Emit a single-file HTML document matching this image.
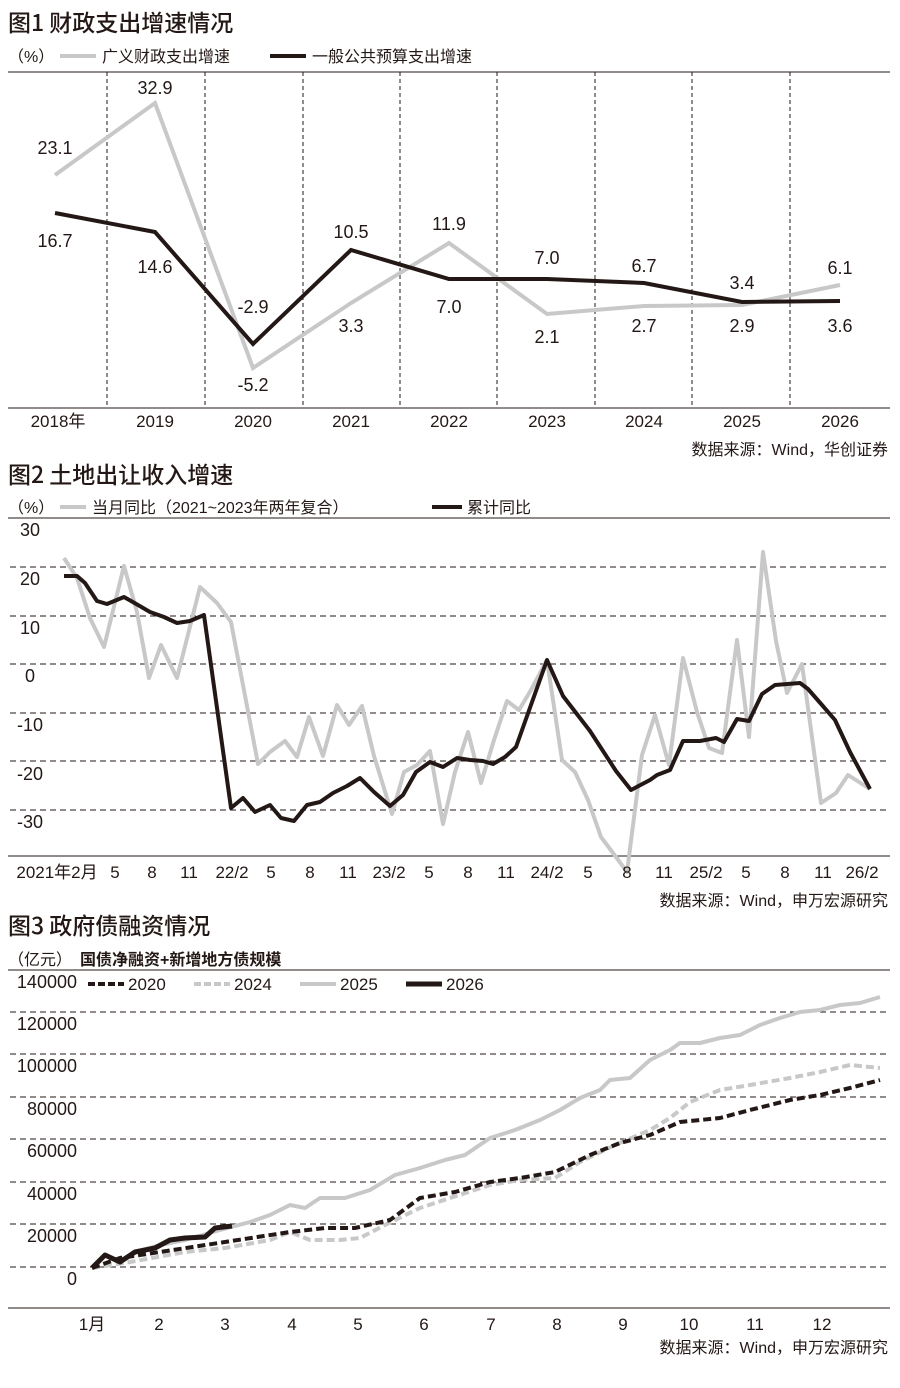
<!DOCTYPE html>
<html><head><meta charset="utf-8"><style>
html,body{margin:0;padding:0;background:#fff;}
svg{display:block;font-family:"Liberation Sans","Noto Sans CJK SC",sans-serif;}
</style></head><body>
<svg width="900" height="1388" viewBox="0 0 900 1388" xmlns="http://www.w3.org/2000/svg">
<rect width="900" height="1388" fill="#fff"/>
<!-- Chart 1 -->
<text x="8" y="31" font-size="23" fill="#231815" font-family="'Noto Sans CJK SC',sans-serif" font-weight="500">图1 财政支出增速情况</text>
<text x="8" y="62" font-size="16" fill="#231815">（%）</text>
<line x1="60" y1="56" x2="96" y2="56" stroke="#c8c8c8" stroke-width="4"/>
<text x="102" y="62" font-size="16" fill="#231815">广义财政支出增速</text>
<line x1="270" y1="56" x2="306" y2="56" stroke="#231815" stroke-width="4"/>
<text x="312" y="62" font-size="16" fill="#231815">一般公共预算支出增速</text>
<line x1="8" y1="72" x2="890" y2="72" stroke="#231815" stroke-width="1"/>
<line x1="8" y1="408" x2="890" y2="408" stroke="#231815" stroke-width="1"/>
<g stroke="#231815" stroke-width="1" stroke-dasharray="4,3">
<line x1="107" y1="72" x2="107" y2="408"/><line x1="205" y1="72" x2="205" y2="408"/><line x1="303" y1="72" x2="303" y2="408"/><line x1="400" y1="72" x2="400" y2="408"/><line x1="497" y1="72" x2="497" y2="408"/><line x1="595" y1="72" x2="595" y2="408"/><line x1="692" y1="72" x2="692" y2="408"/><line x1="790" y1="72" x2="790" y2="408"/>
</g>
<polyline fill="none" stroke="#c8c8c8" stroke-width="4" points="55,175 155,103 253,368 351,303 449,243 547,314 644,306 742,305 840,285"/>
<polyline fill="none" stroke="#231815" stroke-width="4" points="55,213 155,232 253,344 351,250 449,279 547,279 644,283 742,302 840,301"/>
<g font-size="18" fill="#231815" text-anchor="middle">
<text x="55" y="154">23.1</text><text x="155" y="94">32.9</text><text x="253" y="391">-5.2</text><text x="351" y="332">3.3</text><text x="449" y="230">11.9</text><text x="547" y="343">2.1</text><text x="644" y="332">2.7</text><text x="742" y="332">2.9</text><text x="840" y="274">6.1</text>
<text x="55" y="247">16.7</text><text x="155" y="273">14.6</text><text x="253" y="313">-2.9</text><text x="351" y="238">10.5</text><text x="449" y="313">7.0</text><text x="547" y="264">7.0</text><text x="644" y="272">6.7</text><text x="742" y="289">3.4</text><text x="840" y="332">3.6</text>
</g>
<g font-size="17" fill="#231815" text-anchor="middle">
<text x="58" y="427">2018年</text><text x="155" y="427">2019</text><text x="253" y="427">2020</text><text x="351" y="427">2021</text><text x="449" y="427">2022</text><text x="547" y="427">2023</text><text x="644" y="427">2024</text><text x="742" y="427">2025</text><text x="840" y="427">2026</text>
</g>
<text x="888" y="455" font-size="16" fill="#231815" text-anchor="end">数据来源：Wind，华创证券</text>

<!-- Chart 2 -->
<text x="8" y="483" font-size="23" fill="#231815" font-family="'Noto Sans CJK SC',sans-serif" font-weight="500">图2 土地出让收入增速</text>
<text x="8" y="513" font-size="16" fill="#231815">（%）</text>
<line x1="60" y1="507" x2="86" y2="507" stroke="#c8c8c8" stroke-width="4"/>
<text x="92" y="513" font-size="16" fill="#231815">当月同比（2021~2023年两年复合）</text>
<line x1="432" y1="507" x2="462" y2="507" stroke="#231815" stroke-width="4"/>
<text x="467" y="513" font-size="16" fill="#231815">累计同比</text>
<line x1="8" y1="518" x2="890" y2="518" stroke="#231815" stroke-width="1"/>
<g stroke="#231815" stroke-width="1" stroke-dasharray="6,4">
<line x1="10" y1="567" x2="890" y2="567"/><line x1="10" y1="616" x2="890" y2="616"/><line x1="10" y1="664" x2="890" y2="664"/><line x1="10" y1="713" x2="890" y2="713"/><line x1="10" y1="761" x2="890" y2="761"/><line x1="10" y1="810" x2="890" y2="810"/>
</g>
<line x1="8" y1="856" x2="890" y2="856" stroke="#231815" stroke-width="1"/>
<g font-size="18" fill="#231815" text-anchor="middle">
<text x="30" y="536">30</text><text x="30" y="585">20</text><text x="30" y="634">10</text><text x="30" y="682">0</text><text x="30" y="731">-10</text><text x="30" y="780">-20</text><text x="30" y="828">-30</text>
</g>
<polyline fill="none" stroke="#c8c8c8" stroke-width="4" stroke-linejoin="round" points="64,558 77,578 90,618 104,647 124,566 137,612 149,678 161,645 177,678 200,587 217,603 231,622 258,764 270,752 285,741 297,757 309,717 323,756 337,705 349,725 362,706 374,756 392,814 404,772 417,765 430,751 443,824 455,772 468,732 481,783 494,740 507,701 519,710 531,690 547,660 562,760 575,772 588,800 601,837 616,857 627,872 642,755 655,715 669,765 683,658 697,712 709,748 722,753 737,640 749,737 763,552 776,641 787,693 802,664 821,803 836,793 848,775 870,789"/>
<polyline fill="none" stroke="#231815" stroke-width="4" stroke-linejoin="round" points="64,576 77,576 85,583 97,601 107,604 124,597 138,605 150,612 164,617 177,623 190,621 204,615 231,808 243,798 255,812 270,805 281,818 294,821 307,805 320,802 333,793 347,786 360,778 374,792 390,806 403,795 416,772 430,762 443,767 457,758 470,760 483,761 493,764 505,757 516,747 547,660 563,696 590,731 616,771 631,790 650,780 657,775 670,770 683,741 700,741 716,738 724,742 737,719 749,721 762,694 775,685 800,683 808,689 822,705 835,720 850,752 870,789"/>
<g font-size="17" fill="#231815" text-anchor="middle">
<text x="57" y="878">2021年2月</text><text x="115" y="878">5</text><text x="152" y="878">8</text><text x="189" y="878">11</text><text x="232" y="878">22/2</text><text x="271" y="878">5</text><text x="310" y="878">8</text><text x="348" y="878">11</text><text x="389" y="878">23/2</text><text x="429" y="878">5</text><text x="468" y="878">8</text><text x="506" y="878">11</text><text x="547" y="878">24/2</text><text x="588" y="878">5</text><text x="627" y="878">8</text><text x="664" y="878">11</text><text x="706" y="878">25/2</text><text x="746" y="878">5</text><text x="785" y="878">8</text><text x="823" y="878">11</text><text x="862" y="878">26/2</text>
</g>
<text x="888" y="906" font-size="16" fill="#231815" text-anchor="end">数据来源：Wind，申万宏源研究</text>

<!-- Chart 3 -->
<text x="8" y="934" font-size="23" fill="#231815" font-family="'Noto Sans CJK SC',sans-serif" font-weight="500">图3 政府债融资情况</text>
<text x="8" y="965" font-size="16" fill="#231815">（亿元）</text>
<text x="80" y="965" font-size="16" fill="#231815" font-weight="bold">国债净融资+新增地方债规模</text>
<line x1="8" y1="970" x2="890" y2="970" stroke="#231815" stroke-width="1"/>
<line x1="88" y1="984" x2="124" y2="984" stroke="#231815" stroke-width="4" stroke-dasharray="7,3"/>
<text x="128" y="990" font-size="17" fill="#231815">2020</text>
<line x1="194" y1="984" x2="230" y2="984" stroke="#c8c8c8" stroke-width="4" stroke-dasharray="7,3"/>
<text x="234" y="990" font-size="17" fill="#231815">2024</text>
<line x1="300" y1="984" x2="336" y2="984" stroke="#c8c8c8" stroke-width="4"/>
<text x="340" y="990" font-size="17" fill="#231815">2025</text>
<line x1="406" y1="984" x2="442" y2="984" stroke="#231815" stroke-width="5"/>
<text x="446" y="990" font-size="17" fill="#231815">2026</text>
<g stroke="#231815" stroke-width="1" stroke-dasharray="6,4">
<line x1="10" y1="1012" x2="890" y2="1012"/><line x1="10" y1="1054" x2="890" y2="1054"/><line x1="10" y1="1097" x2="890" y2="1097"/><line x1="10" y1="1139" x2="890" y2="1139"/><line x1="10" y1="1182" x2="890" y2="1182"/><line x1="10" y1="1224" x2="890" y2="1224"/><line x1="10" y1="1267" x2="890" y2="1267"/>
</g>
<line x1="8" y1="1308" x2="890" y2="1308" stroke="#231815" stroke-width="1"/>
<g font-size="18" fill="#231815" text-anchor="end">
<text x="77" y="988">140000</text><text x="77" y="1030">120000</text><text x="77" y="1072">100000</text><text x="77" y="1115">80000</text><text x="77" y="1157">60000</text><text x="77" y="1200">40000</text><text x="77" y="1242">20000</text><text x="77" y="1285">0</text>
</g>
<polyline fill="none" stroke="#c8c8c8" stroke-width="4" stroke-linejoin="round" points="92,1268 105,1255 120,1262 135,1252 160,1245 185,1240 220,1230 250,1222 270,1215 290,1205 305,1208 320,1198 345,1198 370,1190 395,1175 420,1168 445,1160 465,1155 490,1138 515,1130 540,1120 560,1110 580,1098 600,1090 610,1080 630,1078 650,1060 670,1050 680,1043 700,1043 720,1038 740,1035 760,1025 780,1018 800,1012 820,1010 840,1005 860,1003 880,997"/>
<polyline fill="none" stroke="#c8c8c8" stroke-width="4" stroke-dasharray="8,4" stroke-linejoin="round" points="92,1268 130,1262 185,1252 225,1248 270,1240 290,1232 310,1240 340,1240 360,1238 385,1225 420,1208 450,1198 490,1185 520,1180 555,1178 580,1162 615,1145 650,1130 670,1118 690,1102 720,1090 750,1085 790,1078 820,1072 850,1065 880,1068"/>
<polyline fill="none" stroke="#231815" stroke-width="4" stroke-dasharray="8,4" stroke-linejoin="round" points="92,1268 120,1258 160,1252 225,1242 290,1232 325,1228 355,1228 390,1220 420,1198 455,1192 490,1182 520,1178 555,1172 590,1155 620,1143 650,1135 680,1122 720,1118 750,1110 790,1100 820,1095 850,1088 880,1080"/>
<polyline fill="none" stroke="#231815" stroke-width="5" stroke-linejoin="round" points="92,1268 105,1255 120,1262 135,1252 155,1248 170,1240 185,1238 205,1237 215,1228 232,1226"/>
<g font-size="17" fill="#231815" text-anchor="middle">
<text x="92" y="1330">1月</text><text x="159" y="1330">2</text><text x="225" y="1330">3</text><text x="292" y="1330">4</text><text x="358" y="1330">5</text><text x="424" y="1330">6</text><text x="491" y="1330">7</text><text x="557" y="1330">8</text><text x="623" y="1330">9</text><text x="689" y="1330">10</text><text x="755" y="1330">11</text><text x="822" y="1330">12</text>
</g>
<text x="888" y="1353" font-size="16" fill="#231815" text-anchor="end">数据来源：Wind，申万宏源研究</text>
</svg>
</body></html>
